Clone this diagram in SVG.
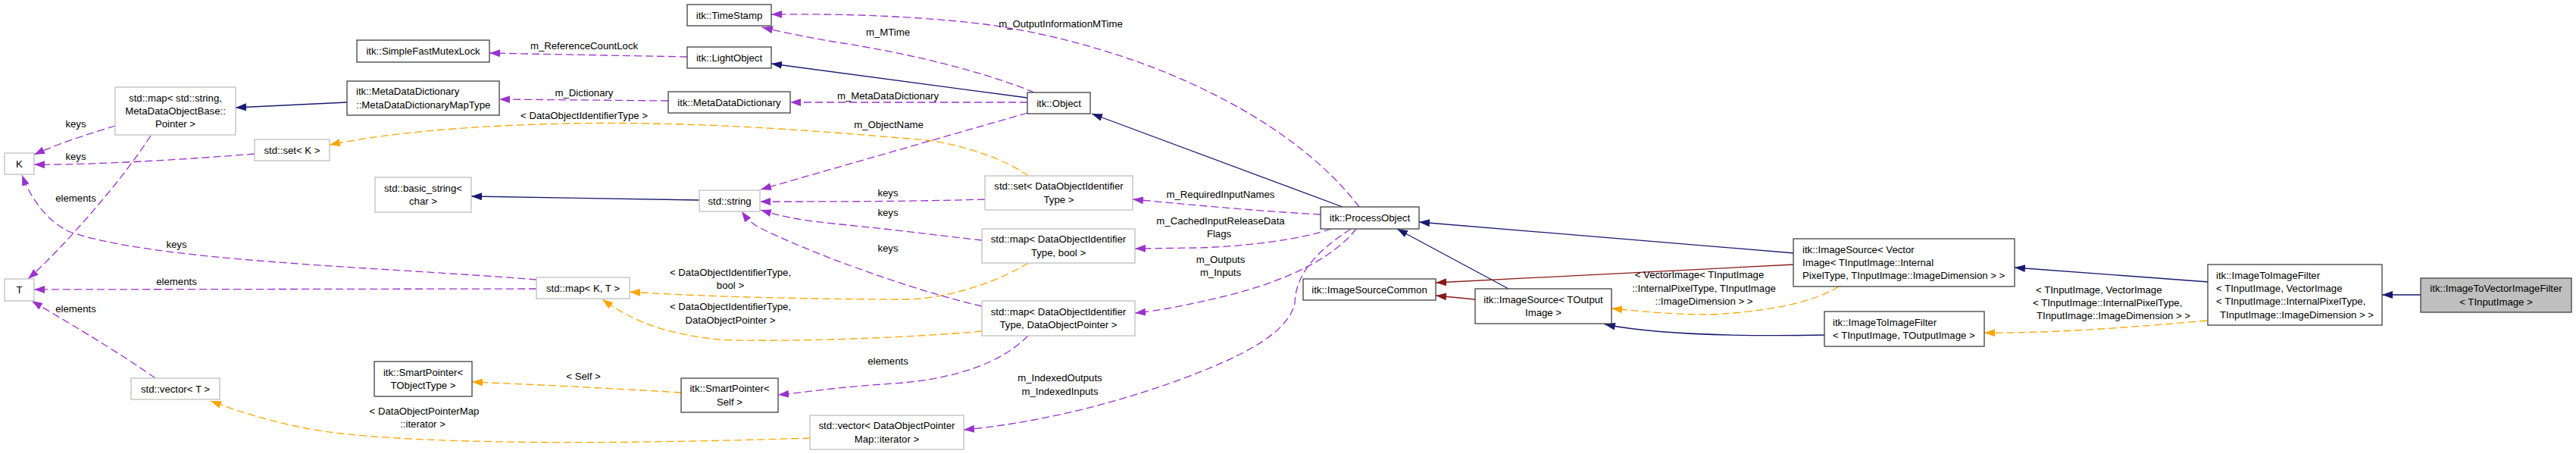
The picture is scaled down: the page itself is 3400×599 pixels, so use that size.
<svg xmlns="http://www.w3.org/2000/svg" width="3400" height="599" viewBox="0 0 3400 599">
<style>
text{font-family:"Liberation Sans",Arial,Helvetica,sans-serif;font-size:13.2px;fill:#000}
.c{text-anchor:middle}
.n rect{fill:#fff;stroke:#404040;stroke-width:1.3}
.g rect{fill:#fff;stroke:#bfbfbf;stroke-width:1.3}
.sel rect{fill:#bfbfbf;stroke:#404040;stroke-width:1.3}
#edges path{fill:none;stroke-width:1.3}
.inh{stroke:#191970;marker-end:url(#mB)}
.prot{stroke:#8b1a1a;marker-end:url(#mR)}
.use{stroke:#9a32cd;stroke-dasharray:10,5;marker-end:url(#mP)}
.tpl{stroke:#ffa500;stroke-dasharray:10,5;marker-end:url(#mO)}
</style>
<defs>
<marker id="mB" viewBox="0 0 14 10" refX="14" refY="5" markerWidth="14" markerHeight="10" markerUnits="userSpaceOnUse" orient="auto"><path d="M0,0L14,5L0,10z" fill="#191970"/></marker>
<marker id="mR" viewBox="0 0 14 10" refX="14" refY="5" markerWidth="14" markerHeight="10" markerUnits="userSpaceOnUse" orient="auto"><path d="M0,0L14,5L0,10z" fill="#8b1a1a"/></marker>
<marker id="mP" viewBox="0 0 14 10" refX="14" refY="5" markerWidth="14" markerHeight="10" markerUnits="userSpaceOnUse" orient="auto"><path d="M0,0L14,5L0,10z" fill="#9a32cd"/></marker>
<marker id="mO" viewBox="0 0 14 10" refX="14" refY="5" markerWidth="14" markerHeight="10" markerUnits="userSpaceOnUse" orient="auto"><path d="M0,0L14,5L0,10z" fill="#ffa500"/></marker>
</defs>
<rect width="3400" height="599" fill="#fff"/>
<g id="edges">
<path class="inh" d="M458,135 L311,142"/>
<path class="use" d="M152,166 C120,176 80,188 45,204"/>
<text class="c" x="100" y="168">keys</text>
<path class="use" d="M336,203 C250,210 120,218 45,217"/>
<text class="c" x="100" y="211">keys</text>
<path class="use" d="M199,179 C160,240 80,330 37,368"/>
<text class="c" x="100" y="266">elements</text>
<path class="use" d="M708,369 C500,352 200,345 90,305 C60,290 40,260 29,231"/>
<text class="c" x="233" y="327">keys</text>
<path class="use" d="M708,381 L45,382"/>
<text class="c" x="233" y="376">elements</text>
<path class="use" d="M205,499 C150,460 80,420 42,397"/>
<text class="c" x="100" y="412">elements</text>
<path class="tpl" d="M1069,578 C850,585 600,588 450,572 C380,564 320,545 278,529"/>
<text class="c" x="560" y="547">&lt; DataObjectPointerMap</text>
<text class="c" x="558" y="564">::iterator &gt;</text>
<path class="tpl" d="M899,518 C800,512 700,507 623,504"/>
<text class="c" x="770" y="501">&lt; Self &gt;</text>
<path class="use" d="M1357,443 C1320,480 1260,500 1180,506 C1100,511 1060,518 1027,521"/>
<text class="c" x="1172" y="481">elements</text>
<path class="tpl" d="M1357,347 C1320,370 1260,392 1200,395 C1050,395 900,390 831,385"/>
<text class="c" x="964" y="364">&lt; DataObjectIdentifierType,</text>
<text class="c" x="964" y="381">bool &gt;</text>
<path class="tpl" d="M1296,437 C1200,446 1020,452 950,448 C870,440 830,420 795,395"/>
<text class="c" x="964" y="409">&lt; DataObjectIdentifierType,</text>
<text class="c" x="964" y="427">DataObjectPointer &gt;</text>
<path class="tpl" d="M1357,232 C1320,205 1250,185 1200,183 C1050,170 900,160 750,163 C600,166 500,178 435,191"/>
<text class="c" x="771" y="157">&lt; DataObjectIdentifierType &gt;</text>
<path class="use" d="M1356,149 L1004,250"/>
<text class="c" x="1173" y="169">m_ObjectName</text>
<path class="use" d="M1356,135 L1043,135"/>
<text class="c" x="1172" y="131">m_MetaDataDictionary</text>
<path class="inh" d="M1356,129 L1018,84"/>
<path class="use" d="M1365,122 C1300,95 1200,70 1100,55 C1060,48 1030,42 1006,36"/>
<text class="c" x="1172" y="47">m_MTime</text>
<path class="use" d="M907,75 L646,70"/>
<text class="c" x="771" y="65">m_ReferenceCountLock</text>
<path class="use" d="M882,133 L659,131"/>
<text class="c" x="771" y="127">m_Dictionary</text>
<path class="inh" d="M923,264 L622,259"/>
<path class="use" d="M1300,263 C1200,266 1100,266 1003,266"/>
<text class="c" x="1172" y="259">keys</text>
<path class="use" d="M1296,317 C1250,312 1200,305 1100,295 C1050,290 1030,285 1004,277"/>
<text class="c" x="1172" y="285">keys</text>
<path class="use" d="M1296,404 C1200,382 1060,330 1000,299 C990,293 984,286 979,279"/>
<text class="c" x="1172" y="332">keys</text>
<path class="inh" d="M1772,273 L1441,150"/>
<path class="use" d="M1794,273 C1700,150 1500,60 1300,32 C1200,20 1100,18 1018,19"/>
<text class="c" x="1400" y="36">m_OutputInformationMTime</text>
<path class="use" d="M1743,283 C1650,278 1550,268 1495,263"/>
<text class="c" x="1611" y="261">m_RequiredInputNames</text>
<path class="use" d="M1757,302 C1720,315 1650,325 1580,327 L1498,328"/>
<text class="c" x="1611" y="296">m_CachedInputReleaseData</text>
<text class="c" x="1609" y="313">Flags</text>
<path class="use" d="M1790,302 C1760,340 1700,370 1620,390 C1570,402 1530,410 1498,413"/>
<text class="c" x="1611" y="347">m_Outputs</text>
<text class="c" x="1611" y="364">m_Inputs</text>
<path class="use" d="M1783,302 C1740,330 1710,360 1709,400 C1700,440 1640,470 1560,500 C1450,540 1350,560 1272,567"/>
<text class="c" x="1399" y="503">m_IndexedOutputs</text>
<text class="c" x="1399" y="521">m_IndexedInputs</text>
<path class="inh" d="M1991,381 L1844,302"/>
<path class="inh" d="M2368,334 L1873,293"/>
<path class="prot" d="M2368,349 L1895,373"/>
<path class="prot" d="M1947,395 L1895,390"/>
<path class="tpl" d="M2427,378 C2400,395 2350,410 2259,415 C2200,415 2160,410 2127,407"/>
<text class="c" x="2243" y="367">&lt; VectorImage&lt; TInputImage</text>
<text class="c" x="2249" y="385">::InternalPixelType, TInputImage</text>
<text class="c" x="2249" y="402">::ImageDimension &gt; &gt;</text>
<path class="inh" d="M2408,442 C2300,444 2190,442 2118,428"/>
<path class="inh" d="M2915,372 L2659,353"/>
<path class="tpl" d="M2913,423 C2800,433 2700,440 2619,439"/>
<text x="2687" y="387">&lt; TInputImage, VectorImage</text>
<text x="2683" y="404">&lt; TInputImage::InternalPixelType,</text>
<text x="2688" y="421">TInputImage::ImageDimension &gt; &gt;</text>
<path class="inh" d="M3195,389 L3144,389"/>
</g>
<g id="n_K" class="g"><rect x="6" y="202" width="39" height="28"/><text class="c" x="25.5" y="220.5">K</text></g>
<g id="n_T" class="g"><rect x="6" y="368" width="39" height="29"/><text class="c" x="25.5" y="387">T</text></g>
<g id="n_mapString" class="g"><rect x="152" y="115" width="159" height="63"/><text class="c" x="231.5" y="133.7">std::map&lt; std::string,<tspan x="231.5" y="151">MetaDataObjectBase::</tspan><tspan x="231.5" y="168.3">Pointer &gt;</tspan></text></g>
<g id="n_setK" class="g"><rect x="336" y="184" width="99" height="28"/><text class="c" x="385.5" y="202.5">std::set&lt; K &gt;</text></g>
<g id="n_vectorT" class="g"><rect x="173" y="499" width="117" height="28"/><text class="c" x="231.5" y="517.5">std::vector&lt; T &gt;</text></g>
<g id="n_mutex" class="n"><rect x="471" y="53" width="175" height="29"/><text class="c" x="558.5" y="72">itk::SimpleFastMutexLock</text></g>
<g id="n_mapType" class="n"><rect x="458" y="107" width="201" height="45"/><text x="470" y="125.4">itk::MetaDataDictionary<tspan x="470" y="142.7">::MetaDataDictionaryMapType</tspan></text></g>
<g id="n_basicString" class="g"><rect x="495" y="234" width="127" height="46"/><text class="c" x="558.5" y="252.9">std::basic_string&lt;<tspan x="558.5" y="270.2">char &gt;</tspan></text></g>
<g id="n_smartObj" class="n"><rect x="494" y="477" width="129" height="46"/><text class="c" x="558.5" y="495.9">itk::SmartPointer&lt;<tspan x="558.5" y="513.2">TObjectType &gt;</tspan></text></g>
<g id="n_timeStamp" class="n"><rect x="907" y="6" width="111" height="28"/><text class="c" x="962.5" y="24.5">itk::TimeStamp</text></g>
<g id="n_lightObject" class="n"><rect x="907" y="62" width="111" height="28"/><text class="c" x="962.5" y="80.5">itk::LightObject</text></g>
<g id="n_mdd" class="n"><rect x="882" y="121" width="161" height="28"/><text class="c" x="962.5" y="139.5">itk::MetaDataDictionary</text></g>
<g id="n_string" class="g"><rect x="923" y="251" width="80" height="28"/><text class="c" x="963" y="269.5">std::string</text></g>
<g id="n_mapKT" class="g"><rect x="708" y="366" width="123" height="28"/><text class="c" x="769.5" y="384.5">std::map&lt; K, T &gt;</text></g>
<g id="n_smartSelf" class="n"><rect x="899" y="499" width="128" height="45"/><text class="c" x="963" y="517.4">itk::SmartPointer&lt;<tspan x="963" y="534.7">Self &gt;</tspan></text></g>
<g id="n_vectorDOP" class="g"><rect x="1069" y="548" width="203" height="45"/><text class="c" x="1170.5" y="566.4">std::vector&lt; DataObjectPointer<tspan x="1170.5" y="583.7">Map::iterator &gt;</tspan></text></g>
<g id="n_object" class="n"><rect x="1356" y="122" width="83" height="28"/><text class="c" x="1397.5" y="140.5">itk::Object</text></g>
<g id="n_setDOI" class="g"><rect x="1300" y="232" width="195" height="45"/><text class="c" x="1397.5" y="250.4">std::set&lt; DataObjectIdentifier<tspan x="1397.5" y="267.7">Type &gt;</tspan></text></g>
<g id="n_mapBool" class="g"><rect x="1296" y="302" width="202" height="45"/><text class="c" x="1397" y="320.4">std::map&lt; DataObjectIdentifier<tspan x="1397" y="337.7">Type, bool &gt;</tspan></text></g>
<g id="n_mapDOP" class="g"><rect x="1296" y="397" width="202" height="46"/><text class="c" x="1397" y="415.9">std::map&lt; DataObjectIdentifier<tspan x="1397" y="433.2">Type, DataObjectPointer &gt;</tspan></text></g>
<g id="n_processObject" class="n"><rect x="1743" y="273" width="130" height="29"/><text class="c" x="1808" y="292">itk::ProcessObject</text></g>
<g id="n_imageSourceCommon" class="n"><rect x="1720" y="368" width="175" height="28"/><text class="c" x="1807.5" y="386.5">itk::ImageSourceCommon</text></g>
<g id="n_imageSourceT" class="n"><rect x="1947" y="381" width="180" height="46"/><text class="c" x="2037" y="399.9">itk::ImageSource&lt; TOutput<tspan x="2037" y="417.2">Image &gt;</tspan></text></g>
<g id="n_imageSourceV" class="n"><rect x="2367" y="315" width="292" height="63"/><text x="2379" y="333.7">itk::ImageSource&lt; Vector<tspan x="2379" y="351">Image&lt; TInputImage::Internal</tspan><tspan x="2379" y="368.3">PixelType, TInputImage::ImageDimension &gt; &gt;</tspan></text></g>
<g id="n_i2iT" class="n"><rect x="2408" y="411" width="211" height="46"/><text x="2419" y="429.9">itk::ImageToImageFilter<tspan x="2419" y="447.2">&lt; TInputImage, TOutputImage &gt;</tspan></text></g>
<g id="n_i2iV" class="n"><rect x="2914" y="349" width="230" height="80"/><text x="2925" y="367.6">itk::ImageToImageFilter<tspan x="2925" y="384.9">&lt; TInputImage, VectorImage</tspan><tspan x="2925" y="402.2">&lt; TInputImage::InternalPixelType,</tspan><tspan x="2930" y="419.5">TInputImage::ImageDimension &gt; &gt;</tspan></text></g>
<g id="n_i2vif" class="sel"><rect x="3195" y="367" width="199" height="45"/><text class="c" x="3294.5" y="385.4">itk::ImageToVectorImageFilter<tspan x="3294.5" y="402.7">&lt; TInputImage &gt;</tspan></text></g>
</svg>
